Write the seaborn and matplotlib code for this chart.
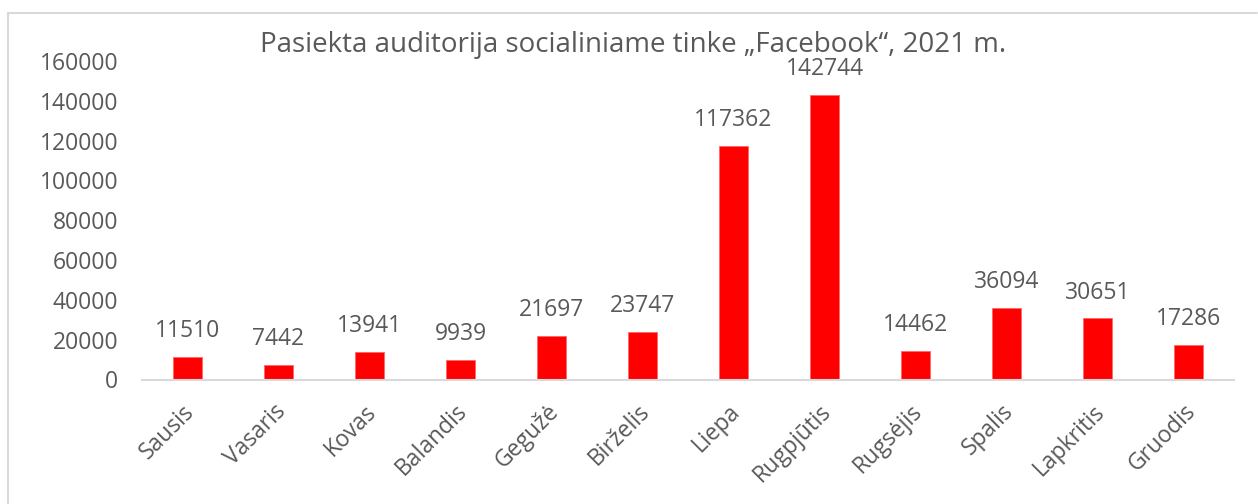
import matplotlib
matplotlib.use("Agg")
import matplotlib.pyplot as plt
import seaborn as sns
import pandas as pd
from matplotlib.lines import Line2D
from matplotlib.transforms import ScaledTranslation

months = ["Sausis", "Vasaris", "Kovas", "Balandis", "Gegužė", "Birželis",
          "Liepa", "Rugpjūtis", "Rugsėjis", "Spalis", "Lapkritis", "Gruodis"]
values = [11510, 7442, 13941, 9939, 21697, 23747,
          117362, 142744, 14462, 36094, 30651, 17286]
yticks = [0, 20000, 40000, 60000, 80000, 100000, 120000, 140000, 160000]
title = "Pasiekta auditorija socialiniame tinke „Facebook“, 2021 m."

sns.set_theme(style="white")
plt.rcParams['font.family'] = ['Open Sans', 'DejaVu Sans']
txt = "#595959"
FS = 16.5

W, H = 1258, 504
fig = plt.figure(figsize=(W / 100, H / 100), dpi=100)
ax = fig.add_axes([142 / W, 1 - 379.5 / H, (1234 - 142) / W, (379.5 - 61) / H])

df = pd.DataFrame({"month": months, "value": values})
sns.barplot(data=df, x="month", y="value", color="#FF0000", saturation=1,
            width=0.315, ax=ax, edgecolor="#FF6666", linewidth=0.6)

ax.set_ylim(0, 160000)
ax.set_xlim(-0.5, len(months) - 0.5)
ax.set_yticks(yticks)
ax.set_yticklabels([str(v) for v in yticks], fontsize=FS, color=txt)
ax.tick_params(axis="y", length=0, pad=17)
ax.tick_params(axis="x", length=0, pad=8)
ax.set_xticks(range(len(months)))
ax.set_xticklabels(months, rotation=45, ha="right", va="top",
                   rotation_mode="anchor", fontsize=FS, color=txt)
shift = ScaledTranslation(-0.05, -0.09, fig.dpi_scale_trans)
for lab in ax.get_xticklabels():
    lab.set_transform(lab.get_transform() + shift)
ax.set_xlabel("")
ax.set_ylabel("")
for s in ["top", "right", "left"]:
    ax.spines[s].set_visible(False)
ax.spines["bottom"].set_color("#d9d9d9")
ax.spines["bottom"].set_linewidth(1.5)

for i, v in enumerate(values):
    ax.annotate(str(v), (i, v), xytext=(0, 10), textcoords="offset points",
                ha="center", va="bottom", fontsize=FS, color=txt)

fig.text(633 / W, 1 - 45 / H, title, ha="center", va="center",
         fontsize=20, color=txt)

# chart frame (top and left edges visible)
fig.add_artist(Line2D([8 / W, 1257 / W], [1 - 13 / H, 1 - 13 / H],
                      transform=fig.transFigure, color="#d9d9d9", lw=1.5))
fig.add_artist(Line2D([8 / W, 8 / W], [1 - 13 / H, 0],
                      transform=fig.transFigure, color="#d9d9d9", lw=1.5))

fig.savefig("out.png", dpi=100, facecolor="white")
